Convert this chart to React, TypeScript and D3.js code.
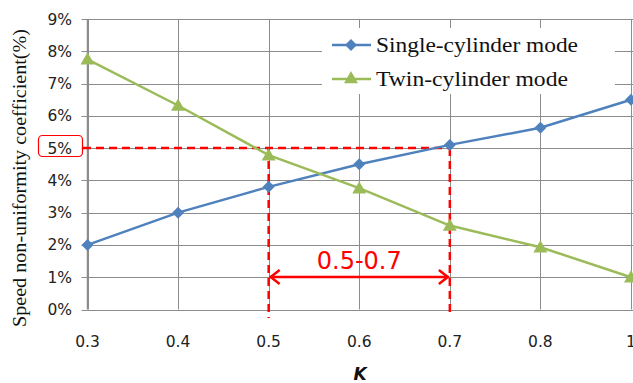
import React from "react";
import { scalePoint, scaleLinear, line } from "d3";

const categories = ["0.3", "0.4", "0.5", "0.6", "0.7", "0.8", "1"];
const singleCylinder = [2.0, 3.0, 3.8, 4.5, 5.1, 5.63, 6.5];
const twinCylinder = [7.75, 6.32, 4.78, 3.76, 2.6, 1.93, 1.0];
const yTicks = [0, 1, 2, 3, 4, 5, 6, 7, 8, 9];
const seriesNames = ["Single-cylinder mode", "Twin-cylinder mode"];
const rangeLow = "0.5";
const rangeHigh = "0.7";
const threshold = 5;

const BLUE = "#4f81bd";
const GREEN = "#9bbb59";
const RED = "#ff0000";
const GRID = "#8c8c8c";

function Diamond({ x, y, r = 6 }: { x: number; y: number; r?: number }) {
  return <path d={`M${x},${y - r}L${x + r},${y}L${x},${y + r}L${x - r},${y}Z`} fill={BLUE} />;
}

function Triangle({ x, y, r = 7 }: { x: number; y: number; r?: number }) {
  return <path d={`M${x},${y - r}L${x + r},${y + r * 0.75}L${x - r},${y + r * 0.75}Z`} fill={GREEN} />;
}

export default function App() {
  const left = 87.5, right = 631, top = 19, bottom = 309.5;
  const x = scalePoint<string>().domain(categories).range([left, right]);
  const y = scaleLinear().domain([0, 9]).range([bottom, top]);

  const lineGen = line<number>()
    .x((_, i) => x(categories[i]) as number)
    .y((d) => y(d));

  const xLo = x(rangeLow) as number;
  const xHi = x(rangeHigh) as number;
  const yT = y(threshold);
  const arrowY = 277;
  const dash = "8,5";
  const sans = "DejaVu Sans, sans-serif";
  const serif = "Liberation Serif, Times New Roman, serif";

  return (
    <svg
      width={633}
      height={383}
      style={{ position: "absolute", left: 0, top: 0, background: "#fff" }}
    >
      {/* gridlines */}
      {yTicks.map((t) => (
        <line key={"h" + t} x1={left - 6} x2={633} y1={Math.round(y(t)) + 0.5} y2={Math.round(y(t)) + 0.5} stroke={GRID} strokeWidth={1} />
      ))}
      {categories.map((c) => (
        <line key={"v" + c} x1={Math.round(x(c) as number) + 0.5} x2={Math.round(x(c) as number) + 0.5} y1={top} y2={bottom} stroke={GRID} strokeWidth={1} />
      ))}
      <line x1={left} x2={left} y1={top} y2={bottom} stroke={GRID} strokeWidth={1.5} />

      {/* y tick labels */}
      {yTicks.map((t) => (
        <text key={"yl" + t} x={72} y={y(t) + 5.5} textAnchor="end" fontFamily={sans} fontSize={15.5} fill="#222">
          {t}%
        </text>
      ))}
      <rect x={38.5} y={135.5} width={44} height={21} rx={4} fill="none" stroke={RED} strokeWidth={1.2} />

      {/* x tick labels */}
      {categories.map((c) => (
        <text key={"xl" + c} x={x(c) as number} y={347} textAnchor="middle" fontFamily={sans} fontSize={15.5} fill="#222">
          {c}
        </text>
      ))}
      <text x={360} y={380} textAnchor="middle" fontFamily={sans} fontSize={17} fontWeight="bold" fontStyle="italic" fill="#111">
        K
      </text>
      <text
        transform="translate(26,178) rotate(-90)"
        textAnchor="middle"
        fontFamily={serif}
        fontSize={18}
        textLength={298}
        lengthAdjust="spacingAndGlyphs"
        fill="#111"
      >
        Speed non-uniformity coefficient(%)
      </text>

      {/* red annotation */}
      <line x1={83} x2={xHi} y1={yT} y2={yT} stroke={RED} strokeWidth={2.5} strokeDasharray={dash} />
      <line x1={xLo} x2={xLo} y1={yT} y2={318} stroke={RED} strokeWidth={2.5} strokeDasharray={dash} />
      <line x1={xHi} x2={xHi} y1={yT} y2={313} stroke={RED} strokeWidth={2.5} strokeDasharray={dash} />
      <line x1={xLo + 1} x2={xHi - 1} y1={arrowY} y2={arrowY} stroke={RED} strokeWidth={2.5} />
      <path d={`M${xLo + 11},${arrowY - 7}L${xLo + 2},${arrowY}L${xLo + 11},${arrowY + 7}`} fill="none" stroke={RED} strokeWidth={2.5} />
      <path d={`M${xHi - 11},${arrowY - 7}L${xHi - 2},${arrowY}L${xHi - 11},${arrowY + 7}`} fill="none" stroke={RED} strokeWidth={2.5} />
      <text x={(xLo + xHi) / 2} y={269} textAnchor="middle" fontFamily={sans} fontSize={24} fill={RED}>
        {rangeLow}-{rangeHigh}
      </text>

      {/* series */}
      <path d={lineGen(singleCylinder) ?? ""} fill="none" stroke={BLUE} strokeWidth={2.5} />
      <path d={lineGen(twinCylinder) ?? ""} fill="none" stroke={GREEN} strokeWidth={2.5} />
      {singleCylinder.map((v, i) => (
        <Diamond key={"d" + i} x={x(categories[i]) as number} y={y(v)} />
      ))}
      {twinCylinder.map((v, i) => (
        <Triangle key={"t" + i} x={x(categories[i]) as number} y={y(v)} />
      ))}

      {/* legend */}
      <rect x={322} y={28} width={293} height={66} fill="#fff" />
      <line x1={332} x2={371} y1={45} y2={45} stroke={BLUE} strokeWidth={2.5} />
      <Diamond x={351} y={45} />
      <text x={376} y={52} fontFamily={serif} fontSize={22} textLength={202} lengthAdjust="spacingAndGlyphs" fill="#111">
        {seriesNames[0]}
      </text>
      <line x1={332} x2={371} y1={79} y2={79} stroke={GREEN} strokeWidth={2.5} />
      <Triangle x={351} y={78} />
      <text x={376} y={86} fontFamily={serif} fontSize={22} textLength={192} lengthAdjust="spacingAndGlyphs" fill="#111">
        {seriesNames[1]}
      </text>
    </svg>
  );
}
